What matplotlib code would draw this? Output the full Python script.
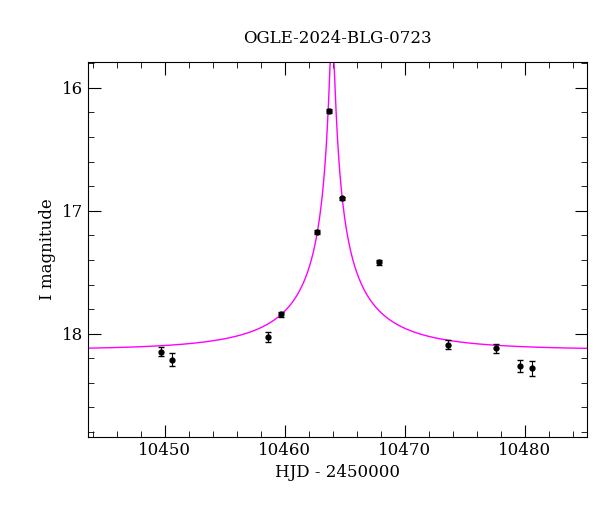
import numpy as np
import matplotlib
matplotlib.use("Agg")
import matplotlib.pyplot as plt
from matplotlib.ticker import MultipleLocator

plt.rcParams["font.family"] = "DejaVu Serif"

hjd = [10449.7, 10450.6, 10458.6, 10459.7, 10462.7, 10463.7, 10464.8, 10467.9, 10473.6, 10477.6, 10479.6, 10480.6]
mag = [18.145, 18.21, 18.03, 17.84, 17.17, 16.19, 16.90, 17.42, 18.09, 18.12, 18.26, 18.28]
err = [0.035, 0.05, 0.04, 0.02, 0.015, 0.015, 0.015, 0.02, 0.035, 0.035, 0.05, 0.06]

t0, tE, u0, fs, base = 10463.95, 10.0, 0.02, 0.2, 18.13

fig = plt.figure(figsize=(6, 5.12), dpi=100)
ax = fig.add_axes([88/600, 1-437/512, 499/600, 375/512])
t = np.linspace(10443, 10486, 6000)
u = np.sqrt(u0**2 + ((t - t0)/tE)**2)
A = (u**2 + 2)/(u*np.sqrt(u**2 + 4))
ax.plot(t, base - 2.5*np.log10(fs*A + 1 - fs), color="magenta", lw=1)
ax.errorbar(hjd, mag, yerr=err, fmt="o", color="black", ms=3.5, capsize=2, elinewidth=0.8)
ax.set_xlim(10443.6, 10485.2)
ax.set_ylim(18.84, 15.79)
ax.xaxis.set_major_locator(MultipleLocator(10))
ax.xaxis.set_minor_locator(MultipleLocator(2))
ax.yaxis.set_major_locator(MultipleLocator(1))
ax.yaxis.set_minor_locator(MultipleLocator(0.2))
ax.tick_params(which="both", direction="in", top=True, right=True, labelsize=12)
ax.tick_params(which="major", length=9)
ax.tick_params(which="minor", length=4)
ax.set_xlabel("HJD - 2450000", fontsize=12)
ax.set_ylabel("I magnitude", fontsize=12)
ax.set_title("OGLE-2024-BLG-0723", fontsize=12, pad=14)
fig.savefig("out.png", dpi=100)
